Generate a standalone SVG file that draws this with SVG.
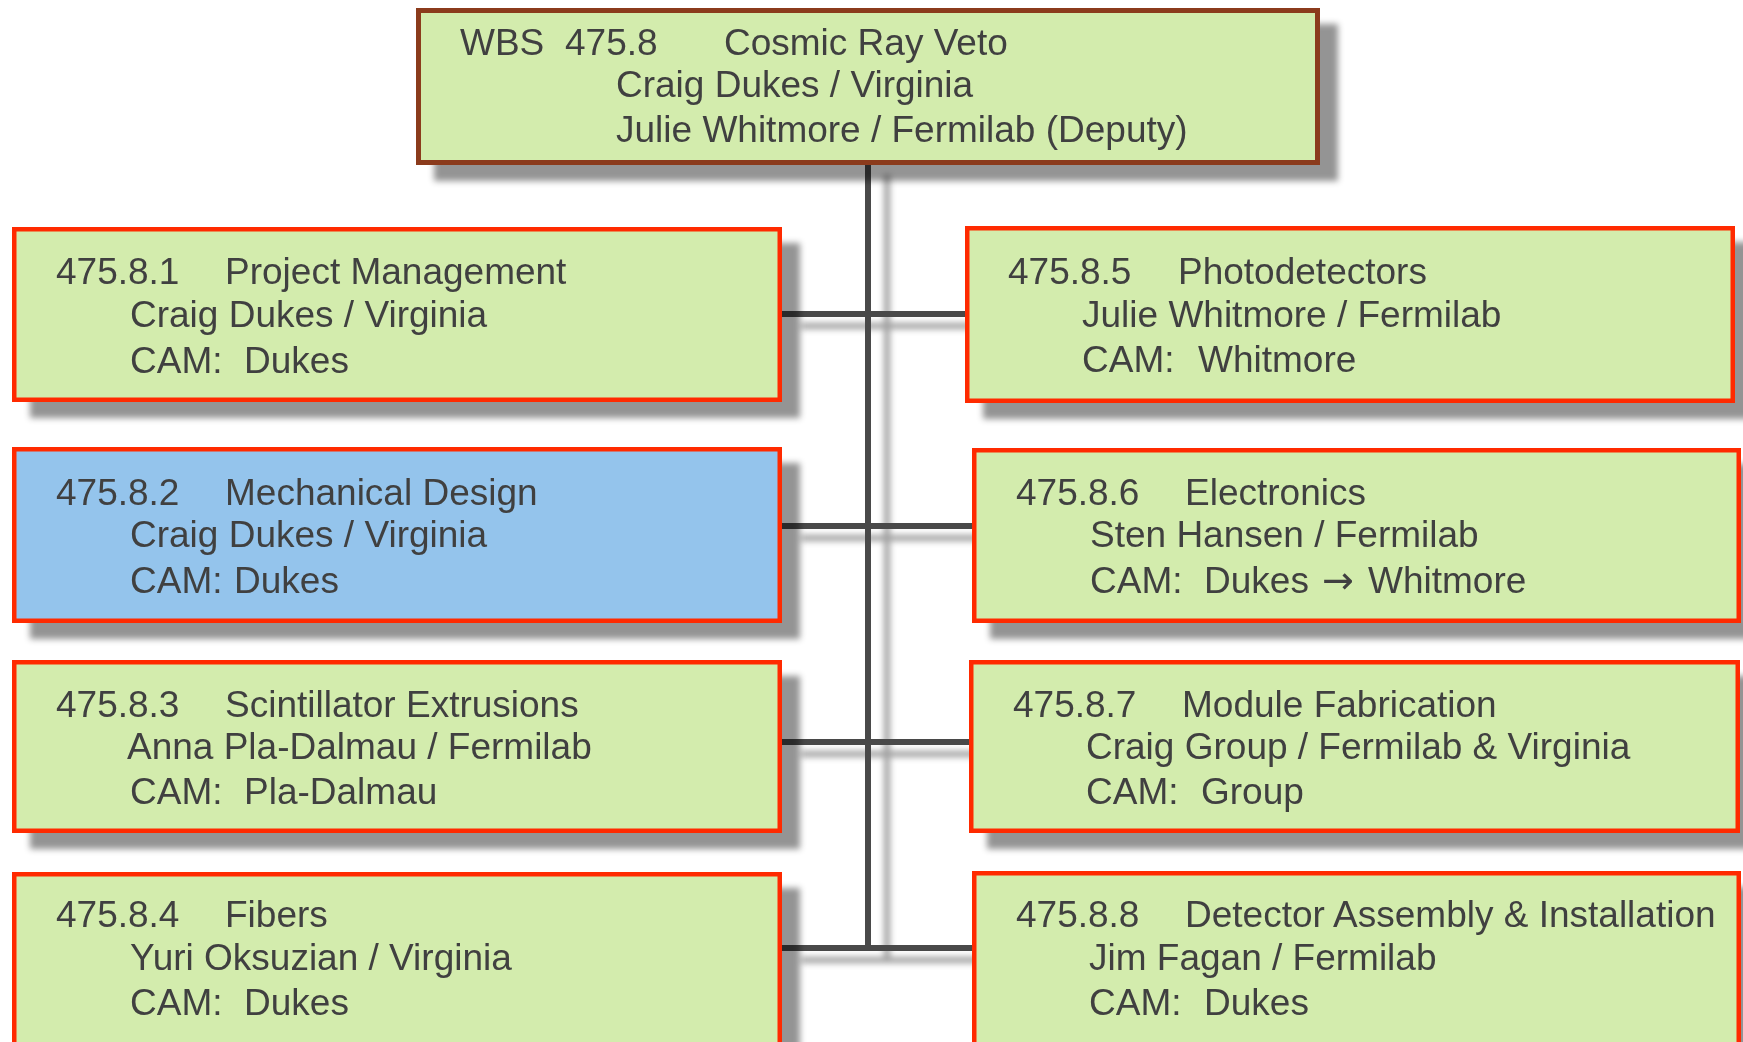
<svg xmlns="http://www.w3.org/2000/svg" width="1743" height="1042" viewBox="0 0 1743 1042">
<defs>
<filter id="sh" x="-10%" y="-20%" width="130%" height="150%">
<feDropShadow dx="18" dy="16" stdDeviation="3" flood-color="#000" flood-opacity="0.42"/>
</filter>
<filter id="lsh" x="-50%" y="-10%" width="200%" height="130%">
<feDropShadow dx="19" dy="12" stdDeviation="3" flood-color="#000" flood-opacity="0.38"/>
</filter>
</defs>
<style>
text{font-family:"Liberation Sans",Arial,sans-serif;font-size:37px;fill:#414141}
.arr{font-family:"DejaVu Sans",sans-serif;font-size:38px}
.box{fill:#d3ecad;stroke:#ff2a00;stroke-width:4.5}
.blue{fill:#94c4ec}
.top{fill:#d3ecad;stroke:#8b3a1e;stroke-width:5}
.ln{stroke:#4a4a4a;stroke-width:6;fill:none}
</style>
<rect width="1743" height="1042" fill="#fff"/>
<g id="connectors" filter="url(#lsh)">
<line class="ln" x1="868" y1="163" x2="868" y2="951"/>
<line class="ln" x1="782" y1="314" x2="965" y2="314"/>
<line class="ln" x1="782" y1="526" x2="972" y2="526"/>
<line class="ln" x1="782" y1="742" x2="969" y2="742"/>
<line class="ln" x1="782" y1="948" x2="972" y2="948"/>
</g>
<g id="n0" filter="url(#sh)">
<rect class="top" x="418.5" y="10.5" width="899" height="152"/>
<text x="460" y="55">WBS</text><text x="565" y="55">475.8</text><text x="724" y="55">Cosmic Ray Veto</text>
<text x="616" y="97">Craig Dukes / Virginia</text>
<text x="616" y="142">Julie Whitmore / Fermilab (Deputy)</text>
</g>
<g id="n1" filter="url(#sh)">
<rect class="box" x="14.25" y="229.25" width="765.5" height="170.5"/>
<text x="56" y="284">475.8.1</text><text x="225" y="284">Project Management</text>
<text x="130" y="327">Craig Dukes / Virginia</text>
<text x="130" y="373">CAM:</text><text x="244" y="373">Dukes</text>
</g>
<g id="n2" filter="url(#sh)">
<rect class="box blue" x="14.25" y="449.25" width="765.5" height="171.5"/>
<text x="56" y="505">475.8.2</text><text x="225" y="505">Mechanical Design</text>
<text x="130" y="547">Craig Dukes / Virginia</text>
<text x="130" y="593">CAM:</text><text x="234" y="593">Dukes</text>
</g>
<g id="n3" filter="url(#sh)">
<rect class="box" x="14.25" y="662.25" width="765.5" height="168.5"/>
<text x="56" y="717">475.8.3</text><text x="225" y="717">Scintillator Extrusions</text>
<text x="127" y="759">Anna Pla-Dalmau / Fermilab</text>
<text x="130" y="804">CAM:</text><text x="244" y="804">Pla-Dalmau</text>
</g>
<g id="n4" filter="url(#sh)">
<rect class="box" x="14.25" y="874.25" width="765.5" height="172"/>
<text x="56" y="927">475.8.4</text><text x="225" y="927">Fibers</text>
<text x="130" y="970">Yuri Oksuzian / Virginia</text>
<text x="130" y="1015">CAM:</text><text x="244" y="1015">Dukes</text>
</g>
<g id="n5" filter="url(#sh)">
<rect class="box" x="967.25" y="228.25" width="765.5" height="172.5"/>
<text x="1008" y="284">475.8.5</text><text x="1178" y="284">Photodetectors</text>
<text x="1082" y="327">Julie Whitmore / Fermilab</text>
<text x="1082" y="372">CAM:</text><text x="1198" y="372">Whitmore</text>
</g>
<g id="n6" filter="url(#sh)">
<rect class="box" x="974.25" y="450.25" width="764.5" height="170.5"/>
<text x="1016" y="505">475.8.6</text><text x="1185" y="505">Electronics</text>
<text x="1090" y="547">Sten Hansen / Fermilab</text>
<text x="1090" y="593">CAM:</text><text x="1204" y="593">Dukes</text><text class="arr" x="1322" y="593">→</text><text x="1368" y="593">Whitmore</text>
</g>
<g id="n7" filter="url(#sh)">
<rect class="box" x="971.25" y="662.25" width="766.5" height="168.5"/>
<text x="1013" y="717">475.8.7</text><text x="1182" y="717">Module Fabrication</text>
<text x="1086" y="759">Craig Group / Fermilab &amp; Virginia</text>
<text x="1086" y="804">CAM:</text><text x="1201" y="804">Group</text>
</g>
<g id="n8" filter="url(#sh)">
<rect class="box" x="974.25" y="873.25" width="764.5" height="173"/>
<text x="1016" y="927">475.8.8</text><text x="1185" y="927">Detector Assembly &amp; Installation</text>
<text x="1089" y="970">Jim Fagan / Fermilab</text>
<text x="1089" y="1015">CAM:</text><text x="1204" y="1015">Dukes</text>
</g>
</svg>
